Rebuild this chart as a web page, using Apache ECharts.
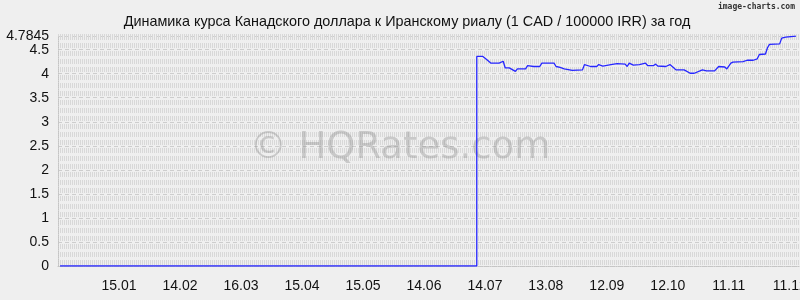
<!DOCTYPE html>
<html><head><meta charset="utf-8">
<script src="https://cdn.jsdelivr.net/npm/echarts@6/dist/echarts.min.js"></script>
<style>html,body{margin:0;padding:0;background:#efefef}#c{width:800px;height:300px}</style>
</head><body><div id="c"></div>
<script>
const titleText = 'Динамика курса Канадского доллара к Иранскому риалу (1 CAD / 100000 IRR) за год';
const startDate = Date.UTC(2024, 11, 16); // day 0 = 16.12
const days = [1, 206, 206, 209, 211, 213, 217, 219, 220, 222, 225, 226, 230, 231, 234, 237, 238, 244, 245, 247, 249, 253, 258, 259, 262, 265, 266, 268, 272, 275, 279, 280, 281, 283, 286, 289, 290, 293, 294, 295, 299, 301, 303, 304, 308, 311, 313, 317, 319, 323, 325, 328, 329, 331, 332, 337, 339, 342, 344, 345, 348, 349, 350, 355, 356, 358, 363];
const values = [0, 0, 4.36, 4.36, 4.29, 4.22, 4.22, 4.26, 4.12, 4.12, 4.05, 4.10, 4.10, 4.17, 4.15, 4.15, 4.22, 4.22, 4.15, 4.13, 4.10, 4.07, 4.08, 4.19, 4.15, 4.15, 4.19, 4.16, 4.19, 4.21, 4.20, 4.15, 4.22, 4.18, 4.19, 4.22, 4.17, 4.17, 4.20, 4.16, 4.15, 4.19, 4.12, 4.08, 4.08, 4.01, 4.01, 4.08, 4.06, 4.06, 4.15, 4.14, 4.10, 4.22, 4.24, 4.25, 4.28, 4.28, 4.31, 4.40, 4.41, 4.54, 4.61, 4.62, 4.74, 4.76, 4.78];
const yTicks = [0, 0.5, 1, 1.5, 2, 2.5, 3, 3.5, 4, 4.5, 4.7845];
const yMaxTick = [4.7845];
const yMax = 4.7845;
const xMax = 365;
const xStep = 30;

function dayLabel(d) {
  const dt = new Date(startDate + d * 86400000);
  const dd = String(dt.getUTCDate()).padStart(2, '0');
  const mm = String(dt.getUTCMonth() + 1).padStart(2, '0');
  return dd + '.' + mm;
}

const labelStyle = {margin: 9, color: '#111', fontSize: 14, fontFamily: 'Liberation Sans', hideOverlap: false, formatter: v => String(v)};

const chart = echarts.init(document.getElementById('c'), null, {renderer: 'canvas'});
chart.setOption({
  animation: false,
  backgroundColor: '#efefef',
  title: {
    text: titleText, left: 402, top: 10, textAlign: 'center',
    textStyle: {fontSize: 14.4, fontWeight: 'normal', color: '#111', fontFamily: 'Liberation Sans'}
  },
  graphic: [
    {type: 'text', x: 400, y: 148, z: 1, silent: true,
     style: {text: '© HQRates.com', font: '37px "DejaVu Sans"', fill: 'rgba(130,130,130,0.34)', align: 'center', verticalAlign: 'middle'}},
    {type: 'text', x: 795, y: 7, z: 5, silent: true,
     style: {text: 'image-charts.com', font: 'bold 8px "DejaVu Sans Mono"', fill: '#333', align: 'right', verticalAlign: 'middle'}}
  ],
  grid: [
    {left: 58, right: 0, top: 36, bottom: 34, outerBoundsMode: 'none', containLabel: false},
    {left: 58, right: 0, top: 36, bottom: 38, outerBoundsMode: 'none', containLabel: false}
  ],
  xAxis: [
    {type: 'value', gridIndex: 0, min: 0, max: xMax, interval: xStep, offset: 9,
     axisLine: {show: true, lineStyle: {color: '#c4c4c4', type: 'dotted'}},
     axisTick: {show: false}, splitLine: {show: false},
     axisLabel: {showMinLabel: false, showMaxLabel: false, hideOverlap: false, margin: 4, color: '#111', fontSize: 14, fontFamily: 'Liberation Sans', formatter: v => dayLabel(v)}},
    {type: 'value', gridIndex: 1, min: 0, max: xMax, show: false}
  ],
  yAxis: [
    {type: 'value', gridIndex: 0, min: 0, max: yMax,
     axisLine: {show: true, lineStyle: {color: '#c4c4c4', type: 'dotted'}},
     axisTick: {show: false, customValues: yTicks},
     splitLine: {show: true, lineStyle: {color: '#cdcdcd', type: [4, 3], width: 1}},
     axisLabel: Object.assign({customValues: yTicks.slice(0, -1), showMinLabel: true, showMaxLabel: true}, labelStyle)},
    {type: 'value', gridIndex: 1, min: 0, max: yMax - 1 / 12, interval: 1 / 6,
     axisLine: {show: false}, axisTick: {show: false}, axisLabel: {show: false},
     splitLine: {show: true, lineStyle: {color: '#d8d8d8', type: [1, 1], width: 5}}},
    {type: 'value', gridIndex: 0, min: 0, max: yMax, position: 'left',
     axisLine: {show: false}, axisTick: {show: false, customValues: yMaxTick}, splitLine: {show: false},
     axisLabel: Object.assign({customValues: yMaxTick, showMinLabel: true, showMaxLabel: true}, labelStyle)}
  ],
  series: [{
    type: 'line', xAxisIndex: 0, yAxisIndex: 0, z: 3,
    data: days.map((d, i) => [d, values[i]]),
    showSymbol: false, symbol: 'none',
    lineStyle: {color: '#2626ff', width: 1.3}
  }]
});
</script></body></html>
